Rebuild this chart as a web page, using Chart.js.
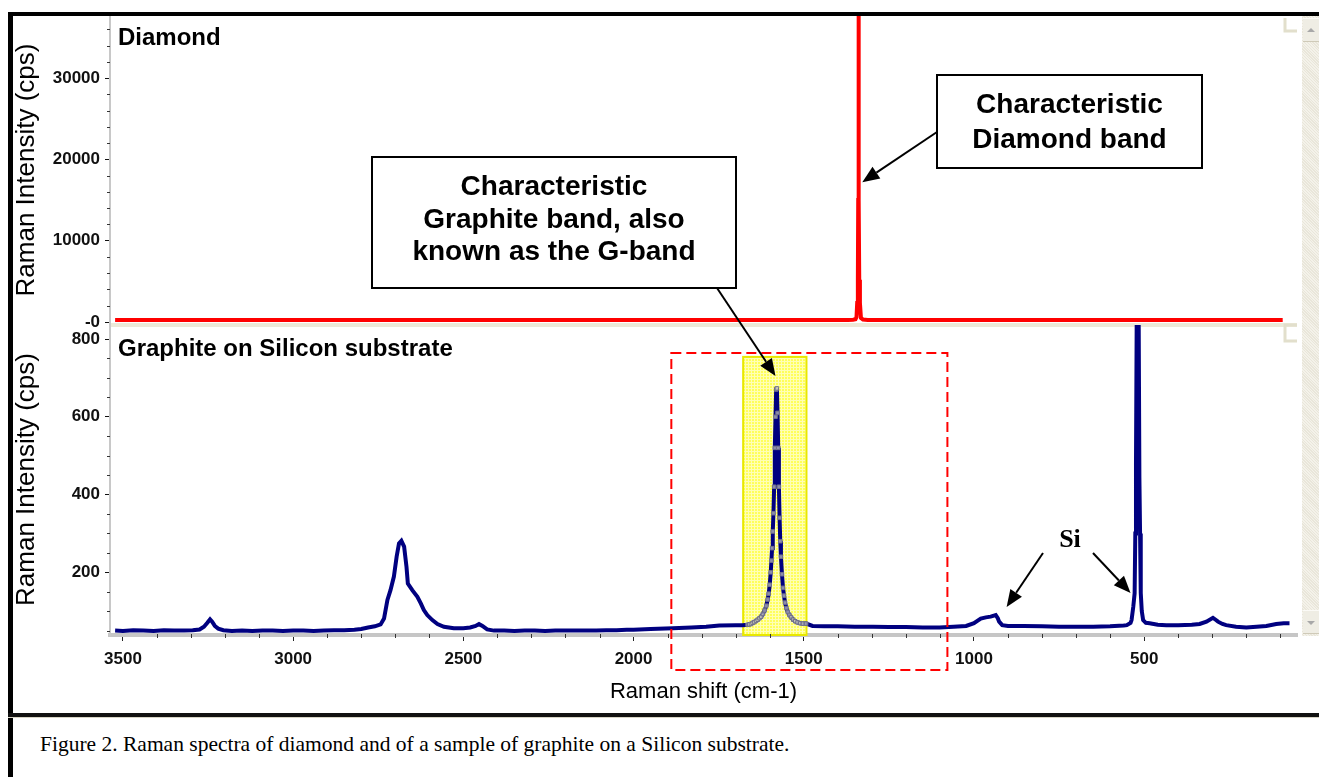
<!DOCTYPE html>
<html>
<head>
<meta charset="utf-8">
<title>Raman spectra of diamond and graphite</title>
<script src="https://cdn.jsdelivr.net/npm/chart.js@4.4.1/dist/chart.umd.min.js"></script>
<style>
  html, body { margin: 0; padding: 0; background: #fff; }
  body { width: 1319px; height: 777px; position: relative; overflow: hidden; }
  #frameTop { position: absolute; left: 8px; top: 12px; width: 1311px; height: 4px; background: #000; }
  #frameLeft { position: absolute; left: 8px; top: 12px; width: 5px; height: 765px; background: #000; }
  #frameSep { position: absolute; left: 8px; top: 713px; width: 1311px; height: 4px; background: #111; border-bottom: 1px solid #d8d4c4; }
  #chartBox { position: absolute; left: 13px; top: 16px; width: 1306px; height: 697px; }
  #scroll { position: absolute; left: 1302px; top: 16px; width: 17px; height: 620px;
    background: repeating-linear-gradient(45deg, #f4f2ea 0 1px, #e9e6da 1px 2px); }
  .sbBtn { position: absolute; left: 1px; width: 16px; height: 24px; background: #efede4; border-top: 1px solid #fbfaf6; border-bottom: 1px solid #cfcab8; box-sizing: border-box; }
  .sbBtn i { position: absolute; left: 4px; width: 0; height: 0; border-left: 4px solid transparent; border-right: 4px solid transparent; }
  #sbUp { top: 2px; }
  #sbUp i { top: 9px; border-bottom: 4px solid #a8a8a8; }
  #sbDown { top: 594px; }
  #sbDown i { top: 10px; border-top: 4px solid #a8a8a8; }
  #caption { position: absolute; left: 40px; top: 732px; font-family: "Liberation Serif", "Times New Roman", serif; font-size: 21.5px; color: #000; white-space: nowrap; }
</style>
</head>
<body>
<div id="frameTop"></div>
<div id="frameLeft"></div>
<div id="frameSep"></div>
<div id="chartBox"><canvas id="raman"></canvas></div>
<div id="scroll"><div class="sbBtn" id="sbUp"><i></i></div><div class="sbBtn" id="sbDown"><i></i></div></div>
<div id="caption">Figure 2. Raman spectra of diamond and of a sample of graphite on a Silicon substrate.</div>

<script>
// ---- data ----
var shiftTicks = [3500, 3000, 2500, 2000, 1500, 1000, 500];
var diamondTickValues = [0, 10000, 20000, 30000];
var diamondTickLabels = ['-0', '10000', '20000', '30000'];
var graphiteTickValues = [200, 400, 600, 800];
var graphiteTickLabels = ['200', '400', '600', '800'];

var diamondShift = [3523, 2500, 1500, 1400, 1370, 1355, 1348, 1345, 1343, 1341, 1340, 1339.5, 1338.5, 1338, 1337, 1335, 1332, 1326, 1312, 1200, 500, 93];
var diamondIntensity = [250, 250, 250, 250, 255, 270, 330, 600, 2340, 5200, 15000, 48000, 48000, 15000, 5200, 2340, 500, 300, 260, 250, 250, 250];

var graphiteShift = [
  3523, 3500, 3470, 3440, 3410, 3380, 3350, 3320, 3295, 3275, 3262, 3252, 3244, 3238, 3230, 3220, 3205, 3180, 3150, 3120,
  3090, 3060, 3030, 3000, 2970, 2940, 2910, 2880, 2850, 2820, 2800, 2780, 2760, 2743, 2733, 2723, 2714, 2704, 2696, 2689,
  2682, 2674, 2667, 2663, 2650, 2635, 2625, 2616, 2606, 2591, 2576, 2557, 2528, 2500, 2480, 2464, 2454, 2444, 2430, 2410,
  2380, 2350, 2320, 2290, 2260, 2230, 2200, 2170, 2140, 2110, 2080, 2050, 2020, 2000, 1950, 1885, 1830, 1787, 1748, 1700,
  1680, 1665, 1660, 1655, 1650, 1645, 1640, 1635, 1630, 1625, 1620, 1615, 1610, 1606, 1603, 1600, 1597, 1595, 1593, 1591,
  1589, 1587, 1585, 1583, 1581, 1579, 1577, 1575, 1573, 1571, 1569, 1567, 1564, 1561, 1558, 1555, 1551, 1547, 1542, 1537,
  1531, 1525, 1518, 1510, 1502, 1493, 1474, 1440, 1400, 1350, 1297, 1250, 1200, 1150, 1101, 1060, 1023, 1000, 990, 980,
  965, 951, 936, 930, 926, 917, 900, 854, 800, 750, 707, 650, 600, 560, 551, 540, 537, 532, 528, 526,
  524, 522, 516, 514, 512, 510, 507, 503, 495, 484, 460, 435, 400, 360, 337, 317, 298, 290, 283, 270,
  259, 230, 200, 170, 141, 112, 90, 73
];
var graphiteIntensity = [
  50, 49, 51, 50, 49, 51, 50, 50, 51, 53, 60, 70, 79, 73, 62, 55, 51, 49, 50, 49,
  50, 50, 49, 50, 50, 49, 50, 51, 51, 52, 54, 58, 61, 66, 81, 129, 154, 189, 240, 274,
  281, 266, 214, 171, 154, 137, 120, 103, 90, 77, 67, 60, 56, 56, 58, 62, 67, 62, 53, 50,
  50, 49, 50, 50, 49, 50, 50, 50, 50, 50, 51, 51, 52, 52, 54, 56, 58, 60, 63, 64,
  64, 65, 66, 67, 70, 72, 75, 78, 82, 86, 93, 102, 114, 130, 145, 168, 200, 230, 262, 305,
  352, 420, 520, 600, 670, 673, 610, 520, 420, 340, 280, 240, 195, 160, 140, 122, 108, 98, 90, 84,
  78, 74, 71, 69, 68, 68, 62, 61, 61, 60, 60, 59, 59, 58, 58, 60, 62, 69, 75, 81,
  84, 86, 90, 82, 73, 64, 62, 62, 61, 60, 60, 60, 61, 63, 64, 70, 77, 111, 146, 300,
  476, 831, 831, 443, 300, 147, 100, 77, 70, 69, 65, 64, 64, 65, 67, 73, 83, 78, 73, 67,
  64, 60, 58, 60, 62, 67, 69, 69
];

// highlighted G-band window and the dashed frame round it (cm-1 / cps)
var gBandWindow = { from: 1678, to: 1492, top: 754 };
var dashedFrame = { from: 1889, to: 1078, top: 764, bottom: -51 };

// callouts: boxes in canvas pixels, arrow tips in data units
var callouts = [
  { lines: ['Characteristic', 'Diamond band'], box: [924, 59, 265, 93], firstBaseline: 97, gap: 35,
    tail: [924, 116], tip: { axis: 'yD', x: 1328, y: 17200 } },
  { lines: ['Characteristic', 'Graphite band, also', 'known as the G-band'], box: [359, 141, 364, 131], firstBaseline: 179, gap: 32.5,
    tail: [704, 272], tip: { axis: 'yG', x: 1583, y: 705 } }
];
var siLabel = { text: 'Si', x: 1057, y: 531 };
var siArrows = [
  { tail: [1030, 537], tip: { x: 904, y: 111 } },
  { tail: [1080, 537], tip: { x: 540, y: 147 } }
];

function toPoints(xs, ys) {
  return xs.map(function (x, i) { return { x: x, y: ys[i] }; });
}

function inWindow(v) {
  return v <= gBandWindow.from && v >= gBandWindow.to;
}

function drawArrow(ctx, x0, y0, x1, y1) {
  var ang = Math.atan2(y1 - y0, x1 - x0);
  var head = 17, half = 7;
  var bx = x1 - head * Math.cos(ang), by = y1 - head * Math.sin(ang);
  ctx.strokeStyle = '#000';
  ctx.fillStyle = '#000';
  ctx.lineWidth = 2;
  ctx.beginPath();
  ctx.moveTo(x0, y0);
  ctx.lineTo(bx, by);
  ctx.stroke();
  ctx.beginPath();
  ctx.moveTo(x1, y1);
  ctx.lineTo(bx + half * Math.sin(ang), by - half * Math.cos(ang));
  ctx.lineTo(bx - half * Math.sin(ang), by + half * Math.cos(ang));
  ctx.closePath();
  ctx.fill();
}

var yellowTile = null;
function yellowPattern(ctx) {
  if (!yellowTile) {
    yellowTile = document.createElement('canvas');
    yellowTile.width = 3;
    yellowTile.height = 3;
    var t = yellowTile.getContext('2d');
    t.fillStyle = '#ffff5a';
    t.fillRect(0, 0, 3, 3);
    t.fillStyle = '#ffffb4';
    t.fillRect(0, 0, 3, 1);
    t.fillRect(0, 0, 1, 3);
  }
  return ctx.createPattern(yellowTile, 'repeat');
}

var decorations = {
  id: 'decorations',
  beforeDatasetsDraw: function (chart) {
    var ctx = chart.ctx, x = chart.scales.x, yD = chart.scales.yD, yG = chart.scales.yG;
    var area = chart.chartArea;
    ctx.save();
    // light band under the diamond panel
    ctx.fillStyle = '#ece9d8';
    ctx.fillRect(area.left + 1, yD.bottom - 1, area.right - area.left - 1, 4);
    // yellow window round the G band
    var x1 = x.getPixelForValue(gBandWindow.from), x2 = x.getPixelForValue(gBandWindow.to);
    var yt = yG.getPixelForValue(gBandWindow.top), yb = yG.bottom;
    ctx.fillStyle = yellowPattern(ctx);
    ctx.fillRect(x1, yt, x2 - x1, yb - yt);
    ctx.strokeStyle = '#e8e800';
    ctx.lineWidth = 2;
    ctx.strokeRect(x1, yt, x2 - x1, yb - yt);
    ctx.restore();
  },
  afterDraw: function (chart) {
    var ctx = chart.ctx, x = chart.scales.x, yD = chart.scales.yD, yG = chart.scales.yG;
    var area = chart.chartArea;
    var v;
    ctx.save();

    // minor ticks
    ctx.fillStyle = '#333';
    for (v = 100; v <= 3500; v += 100) {
      if (v % 500 !== 0) ctx.fillRect(Math.round(x.getPixelForValue(v)), x.top - 1, 1, 4);
    }
    for (v = 2000; v <= 36000; v += 2000) {
      if (v % 10000 !== 0) ctx.fillRect(area.left - 3, Math.round(yD.getPixelForValue(v)), 3, 1);
    }
    for (v = 50; v <= 800; v += 50) {
      if (v % 200 !== 0) ctx.fillRect(area.left - 3, Math.round(yG.getPixelForValue(v)), 3, 1);
    }

    // corner marks at the right edge
    ctx.strokeStyle = '#e2dfcc';
    ctx.lineWidth = 3;
    ctx.beginPath();
    ctx.moveTo(area.right - 12, yD.top + 2);
    ctx.lineTo(area.right - 12, yD.top + 15);
    ctx.lineTo(area.right, yD.top + 15);
    ctx.moveTo(area.right, yG.top + 1);
    ctx.lineTo(area.right - 12, yG.top + 1);
    ctx.lineTo(area.right - 12, yG.top + 17);
    ctx.lineTo(area.right, yG.top + 17);
    ctx.stroke();

    // panel titles
    ctx.fillStyle = '#000';
    ctx.font = 'bold 24px "Liberation Sans", Arial, sans-serif';
    ctx.textAlign = 'left';
    ctx.textBaseline = 'alphabetic';
    ctx.fillText('Diamond', area.left + 8, yD.top + 29);
    ctx.fillText('Graphite on Silicon substrate', area.left + 8, yG.top + 32);

    // dashed red frame
    ctx.strokeStyle = '#ff0000';
    ctx.lineWidth = 2;
    ctx.setLineDash([10, 5]);
    var fx1 = x.getPixelForValue(dashedFrame.from), fx2 = x.getPixelForValue(dashedFrame.to);
    var fy1 = yG.getPixelForValue(dashedFrame.top), fy2 = yG.getPixelForValue(dashedFrame.bottom);
    ctx.strokeRect(fx1, fy1, fx2 - fx1, fy2 - fy1);
    ctx.setLineDash([]);

    // callout boxes and arrows
    callouts.forEach(function (c) {
      var scale = chart.scales[c.tip.axis];
      drawArrow(ctx, c.tail[0], c.tail[1], x.getPixelForValue(c.tip.x), scale.getPixelForValue(c.tip.y));
      ctx.fillStyle = '#fff';
      ctx.fillRect(c.box[0], c.box[1], c.box[2], c.box[3]);
      ctx.strokeStyle = '#000';
      ctx.lineWidth = 2;
      ctx.strokeRect(c.box[0], c.box[1], c.box[2], c.box[3]);
      ctx.fillStyle = '#000';
      ctx.font = 'bold 28px "Liberation Sans", Arial, sans-serif';
      ctx.textAlign = 'center';
      c.lines.forEach(function (line, i) {
        ctx.fillText(line, c.box[0] + c.box[2] / 2, c.firstBaseline + i * c.gap);
      });
    });

    // Si label and arrows
    siArrows.forEach(function (a) {
      drawArrow(ctx, a.tail[0], a.tail[1], x.getPixelForValue(a.tip.x), yG.getPixelForValue(a.tip.y));
    });
    ctx.fillStyle = '#000';
    ctx.font = 'bold 26px "Liberation Serif", "Times New Roman", serif';
    ctx.textAlign = 'center';
    ctx.fillText(siLabel.text, siLabel.x, siLabel.y);

    ctx.restore();
  }
};

var tickFont = { family: 'Liberation Sans', size: 17, weight: 'bold' };
var titleFont = { family: 'Liberation Sans', size: 26, lineHeight: 1 };

function fixedWidth(w) {
  return function (scale) {
    scale.width = w;
    scale.paddingTop = 0;
    scale.paddingBottom = 0;
  };
}

var ctx = document.getElementById('raman');
var chart = new Chart(ctx, {
  type: 'line',
  data: {
    datasets: [{
      label: 'Graphite on Silicon substrate',
      data: toPoints(graphiteShift, graphiteIntensity),
      xAxisID: 'x',
      yAxisID: 'yG',
      borderColor: '#000080',
      borderWidth: 4,
      tension: 0,
      pointStyle: 'rect',
      pointRadius: function (c) { return c.raw && inWindow(c.raw.x) ? 2.5 : 0; },
      pointBorderColor: '#70708a',
      pointBackgroundColor: 'rgba(255, 255, 210, 0.55)',
      pointBorderWidth: 1
    }, {
      label: 'Diamond',
      data: toPoints(diamondShift, diamondIntensity),
      xAxisID: 'x',
      yAxisID: 'yD',
      borderColor: '#ff0000',
      borderWidth: 4,
      tension: 0,
      pointRadius: 0
    }]
  },
  options: {
    responsive: true,
    maintainAspectRatio: false,
    devicePixelRatio: 1,
    animation: false,
    layout: { padding: { left: 0, right: 22, top: 0, bottom: 0 } },
    plugins: { legend: { display: false }, tooltip: { enabled: false } },
    scales: {
      x: {
        type: 'linear',
        position: 'bottom',
        reverse: true,
        min: 51,
        max: 3538,
        afterBuildTicks: function (s) { s.ticks = shiftTicks.map(function (v) { return { value: v }; }); },
        afterFit: function (s) { s.height = 78; s.paddingLeft = 0; s.paddingRight = 0; },
        ticks: { autoSkip: false, maxRotation: 0, padding: 8, color: '#111', font: tickFont,
          callback: function (v) { return String(v); } },
        grid: { drawOnChartArea: false, drawTicks: true, tickLength: 6, tickColor: '#222', tickWidth: 1 },
        border: { display: true, color: '#c6c6c6', width: 4 },
        title: { display: true, text: 'Raman shift (cm-1)', color: '#000',
          font: { family: 'Liberation Sans', size: 22 }, padding: { top: 0, bottom: 8 } }
      },
      yG: {
        type: 'linear',
        position: 'left',
        stack: 'panels',
        stackWeight: 311,
        min: 38.7,
        max: 838.6,
        afterBuildTicks: function (s) { s.ticks = graphiteTickValues.map(function (v) { return { value: v }; }); },
        afterFit: fixedWidth(97),
        ticks: { autoSkip: false, padding: 5, color: '#111', font: tickFont,
          callback: function (v, i) { return graphiteTickLabels[i]; } },
        grid: { drawOnChartArea: false, drawTicks: true, tickLength: 5, tickColor: '#111', tickWidth: 1 },
        border: { display: true, color: '#c8c8c8', width: 2 },
        title: { display: true, text: 'Raman Intensity (cps)', color: '#000', font: titleFont, padding: { top: 1, bottom: 0 } }
      },
      yD: {
        type: 'linear',
        position: 'left',
        stack: 'panels',
        stackWeight: 308,
        min: -246,
        max: 37638,
        afterBuildTicks: function (s) { s.ticks = diamondTickValues.map(function (v) { return { value: v }; }); },
        afterFit: fixedWidth(97),
        ticks: { autoSkip: false, padding: 5, color: '#111', font: tickFont,
          callback: function (v, i) { return diamondTickLabels[i]; } },
        grid: { drawOnChartArea: false, drawTicks: true, tickLength: 5, tickColor: '#111', tickWidth: 1 },
        border: { display: true, color: '#c8c8c8', width: 2 },
        title: { display: true, text: 'Raman Intensity (cps)', color: '#000', font: titleFont, padding: { top: 1, bottom: 0 } }
      }
    }
  },
  plugins: [decorations]
});
</script>
</body>
</html>
